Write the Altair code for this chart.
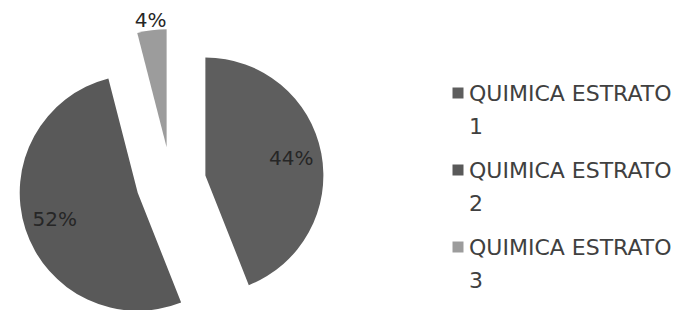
import altair as alt
import pandas as pd

# ---- data ----
categories = ["QUIMICA ESTRATO 1", "QUIMICA ESTRATO 2", "QUIMICA ESTRATO 3"]
values = [44, 52, 4]
colors = ["#5e5e5e", "#595959", "#9c9c9c"]

df = pd.DataFrame({
    "cat": categories,
    "value": values,
    "order": list(range(len(categories))),
    "legend_label": [c.rsplit(" ", 1)[0] + "\n" + c.rsplit(" ", 1)[1] for c in categories],
})

# ---- layout ----
CX, CY, R, D = 163, 174, 118, 35
FONT = "DejaVu Sans"

color_scale = alt.Scale(domain=categories, range=colors)

base = (
    alt.Chart(df)
    .transform_joinaggregate(total="sum(value)")
    .transform_window(cum="sum(value)", sort=[alt.SortField("order")], frame=[None, 0])
    .transform_calculate(
        start="(datum.cum - datum.value) / datum.total * 2 * PI",
        end="datum.cum / datum.total * 2 * PI",
    )
    .transform_calculate(mid="(datum.start + datum.end) / 2")
    .transform_calculate(
        ax=f"{CX} + {D} * sin(datum.mid)",
        ay=f"{CY} - {D} * cos(datum.mid)",
        lr=f"datum.value / datum.total < 0.1 ? {R} + 9 : {R} * 0.74",
        pct="datum.value + '%'",
    )
    .transform_calculate(
        lx="datum.ax + datum.lr * sin(datum.mid)",
        ly="datum.ay - datum.lr * cos(datum.mid)",
    )
)

arcs = base.mark_arc(outerRadius=R).encode(
    theta=alt.Theta("start:Q", scale=None, stack=None),
    theta2="end:Q",
    x=alt.X("ax:Q", scale=None),
    y=alt.Y("ay:Q", scale=None),
    color=alt.Color("cat:N", scale=color_scale, legend=None),
)

labels = base.mark_text(font=FONT, fontSize=20, color="#262626").encode(
    x=alt.X("lx:Q", scale=None),
    y=alt.Y("ly:Q", scale=None),
    text="pct:N",
)

pie = alt.layer(arcs, labels)

leg_y = alt.Y("cat:N", scale=alt.Scale(type="point", domain=categories, range=[85, 239], padding=0), axis=None)

leg_sq = alt.Chart(df).mark_square(size=121, opacity=1).encode(
    x=alt.value(450),
    y=leg_y,
    color=alt.Color("cat:N", scale=color_scale, legend=None),
)

leg_txt = alt.Chart(df).mark_text(
    align="left", baseline="alphabetic", dy=8, lineBreak="\n", lineHeight=33,
    font=FONT, fontSize=22, color="#404040",
).encode(
    x=alt.value(461),
    y=leg_y,
    text="legend_label:N",
)

legend = alt.layer(leg_sq, leg_txt)

chart = (
    alt.layer(pie, legend)
    .resolve_scale(x="independent", y="independent")
    .properties(width=675, height=302, padding=0, autosize=alt.AutoSizeParams(type="none"))
    .configure_view(stroke=None)
)

chart.save("out.html", embed_options={"renderer": "svg", "actions": False})
